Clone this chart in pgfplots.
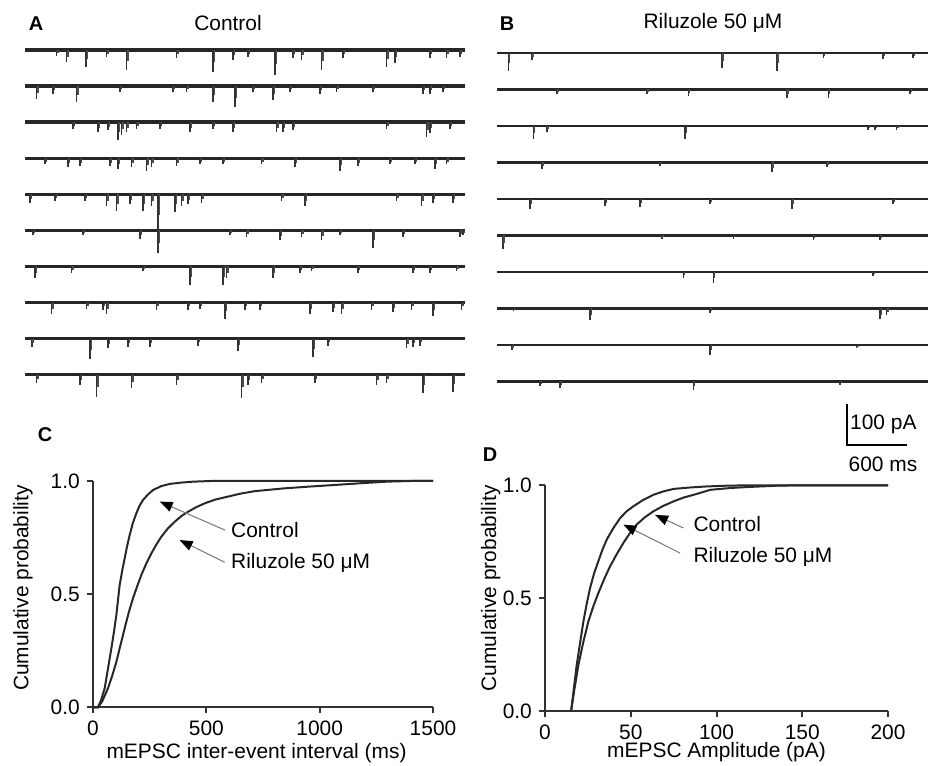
\documentclass[border=0pt]{standalone}
\usepackage{fontspec}
\setmainfont{Liberation Sans}
\usepackage{pgfplots}
\pgfplotsset{compat=1.18}
\usepackage{pgfplotstable}
\usetikzlibrary{arrows.meta}

\definecolor{curve}{RGB}{40,40,40}
\definecolor{axisgray}{RGB}{50,50,50}

% mEPSC events: trace k, time t (ms), amplitude d (pA)
\pgfplotstableread{
k t d
0 317 15
0 417 29
0 610 41
0 817 17
0 1017 49
0 1517 20
0 1883 54
0 2083 24
0 2233 17
0 2500 61
0 2683 20
0 2767 24
0 2967 49
0 3183 20
0 3617 41
0 3700 32
0 4050 20
0 4217 20
0 4350 17
1 117 31
1 283 19
1 517 39
1 950 15
1 1483 15
1 1617 15
1 1883 39
1 2100 51
1 2283 15
1 2483 34
1 2650 15
1 2950 19
1 3117 15
1 3483 15
1 3983 19
1 4050 19
1 4183 15
2 483 17
2 733 24
2 833 20
2 933 44
2 967 32
2 1017 24
2 1117 17
2 1350 17
2 1650 24
2 1883 17
2 2083 24
2 2517 24
2 2583 24
2 2683 20
2 3617 17
2 4017 37
2 4050 27
2 4250 17
3 200 15
3 433 22
3 550 20
3 850 20
3 933 27
3 1067 22
3 1217 32
3 1267 22
3 1517 20
3 1750 15
3 1983 15
3 2367 15
3 2700 22
3 3150 32
3 3333 20
3 3650 15
3 3900 15
3 4100 27
3 4217 15
4 50 20
4 300 17
4 600 17
4 817 29
4 917 41
4 1050 24
4 1183 41
4 1267 29
4 1333 90
4 1500 44
4 1567 29
4 1633 24
4 1767 20
4 2567 17
4 2800 29
4 3717 17
4 3967 29
4 4083 20
4 4283 20
5 83 12
5 583 12
5 1150 20
5 1333 54
5 2050 12
5 2217 17
5 2550 24
5 2767 17
5 2967 24
5 3150 12
5 3483 44
5 3783 17
5 4350 17
5 4383 12
6 100 29
6 467 15
6 1183 10
6 1650 46
6 1983 46
6 2017 27
6 2483 27
6 2750 17
6 2867 10
6 3333 17
6 3883 17
6 4050 15
6 4317 10
7 267 27
7 617 15
7 783 17
7 817 29
7 1317 17
7 1633 17
7 1750 15
7 2000 39
7 2200 17
7 2350 17
7 2850 27
7 3083 22
7 3167 27
7 3467 17
7 3683 22
7 3867 17
7 4083 34
7 4367 17
8 67 20
8 650 49
8 833 24
8 1033 20
8 1250 20
8 1733 17
8 2133 29
8 2883 44
8 3033 17
8 3817 24
8 3883 20
8 3950 17
9 117 20
9 550 24
9 717 54
9 1067 32
9 1517 24
9 2167 56
9 2233 24
9 2367 20
9 2900 20
9 3517 24
9 3617 20
9 3983 44
9 4283 41
}\spikesA

\pgfplotstableread{
k t d
0 113 44
0 347 17
0 2247 37
0 2797 44
0 3263 12
0 3863 15
0 4163 12
1 597 10
1 1497 10
1 1913 15
1 2897 22
1 3313 22
1 4130 10
2 363 32
2 497 15
2 1880 32
2 3713 10
2 3780 10
2 3997 10
3 447 17
3 1630 8
3 2747 24
3 3297 12
4 330 24
4 1080 17
4 1430 20
4 2130 12
4 2947 24
4 3963 12
5 57 32
5 1647 8
5 2363 8
5 3163 12
5 3830 12
6 1863 15
6 2163 27
6 3763 10
7 163 6
7 930 29
7 2130 10
7 3830 27
7 3897 15
8 147 12
8 2130 24
8 3597 8
9 430 12
9 630 17
9 1963 20
9 3430 8
}\spikesB

% baseline of each trace (offset per trace added below)
\pgfplotstableread{
t y
0 0
4400 0
}\baseA
\pgfplotstableread{
t y
0 0
4310 0
}\baseB

\pgfplotsset{
  trace/.style={black!85, line width=3.3bp, forget plot},
  events/.style={draw=none, mark=none, forget plot,
    error bars/.cd, y dir=minus, y explicit, error mark=none,
    error bar style={draw=black!80, line width=1.6bp}},
  tails/.style={draw=none, mark=none, forget plot,
    error bars/.cd, y dir=minus, y explicit, error mark=none,
    error bar style={draw=black!70, line width=1.3bp}},
  cdf/.style={
    scale only axis, axis lines=left, axis line style={-, line width=2bp, axisgray},
    tick align=outside, major tick length=6bp,
    every tick/.style={line width=2bp, axisgray},
    ymin=0, ymax=1, ytick={0,0.5,1},
    yticklabel style={/pgf/number format/.cd, fixed, fixed zerofill, precision=1},
    /pgf/number format/assume math mode=true,
    /pgf/number format/1000 sep={},
    clip=false,
  },
}

\begin{document}
\fontsize{21}{25}\selectfont
\begin{tikzpicture}[x=1bp,y=1bp]
\useasboundingbox (0,0) rectangle (928,766);

% ---- A: control traces
\begin{axis}[hide axis, clip=false, x=0.1bp, y=0.41bp,
  xmin=0, xmax=4400, ymin=-900, ymax=0,
  at={(25bp,716bp)}, anchor=north west]
\pgfplotsinvokeforeach{0,...,9}{
  \addplot[trace] table[x=t, y expr=\thisrow{y}-88*#1] {\baseA};
}
\addplot[events] table[x=t, y expr=-88*\thisrow{k}, y error=d] {\spikesA};
\addplot[tails] table[x expr=\thisrow{t}+14, y expr=-88*\thisrow{k}, y error expr=0.55*\thisrow{d}] {\spikesA};
\end{axis}

% ---- B: riluzole traces
\begin{axis}[hide axis, clip=false, x=0.1bp, y=0.41bp,
  xmin=0, xmax=4310, ymin=-1050, ymax=0,
  at={(497bp,713bp)}, anchor=north west]
\pgfplotsinvokeforeach{0,...,9}{
  \addplot[trace, line width=2.8bp] table[x=t, y expr=\thisrow{y}-89*#1] {\baseB};
}
\addplot[events] table[x=t, y expr=-89*\thisrow{k}, y error=d] {\spikesB};
\addplot[tails] table[x expr=\thisrow{t}+14, y expr=-89*\thisrow{k}, y error expr=0.55*\thisrow{d}] {\spikesB};
% scale bar 600 ms x 100 pA
\addplot[black, line width=1.3bp, forget plot] coordinates {(3500,-856) (3500,-956) (4100,-956)};
\node[anchor=west, inner sep=0pt] at (axis cs:3530,-906) {100 pA};
\node[inner sep=0pt] at (axis cs:3860,-1002) {600 ms};
\end{axis}

\node at (228,743) {Control};
\node at (713,743) {Riluzole 50 μM};
\node[font=\fontsize{20}{24}\selectfont\bfseries] at (36,742) {A};
\node[font=\fontsize{20}{24}\selectfont\bfseries] at (507,742) {B};
\node[font=\fontsize{20}{24}\selectfont\bfseries] at (45,331) {C};
\node[font=\fontsize{20}{24}\selectfont\bfseries] at (490,311) {D};

% ---- C: inter-event interval
\begin{axis}[cdf, at={(93bp,58.7bp)}, anchor=south west, width=340bp, height=226.3bp,
  xmin=0, xmax=1500, xtick={0,500,1000,1500},
  xlabel={mEPSC inter-event interval (ms)},
  ylabel={Cumulative probability},
  every axis y label/.style={at={(axis description cs:-0.206,0.527)}, rotate=90, anchor=center},
  every axis x label/.style={at={(axis description cs:0.481,-0.204)}, anchor=center},
]
\addplot[curve, line width=2bp] coordinates {
 (0,0) (22,0) (35,0.03) (51.5,0.084) (66,0.17) (81,0.26) (92,0.33) (103,0.408) (117.6,0.54)
 (130,0.61) (139.7,0.658) (150,0.71) (161.8,0.761) (176,0.815) (191.2,0.857) (205,0.89)
 (220.6,0.916) (242,0.94) (264.7,0.96) (300,0.977) (338,0.987) (390,0.993) (441,0.997) (520,1) (1500,1)};
\addplot[curve, line width=2bp] coordinates {
 (0,0) (22,0) (40,0.025) (66,0.084) (85,0.14) (102.9,0.2) (120,0.27) (139.7,0.349) (158,0.42)
 (176.5,0.482) (195,0.535) (213.3,0.585) (235,0.635) (257.5,0.68) (280,0.72) (301.6,0.754)
 (330,0.79) (360.5,0.82) (390,0.845) (419,0.864) (455,0.884) (492,0.901) (540,0.918)
 (595,0.931) (650,0.944) (713,0.955) (838,0.967) (950,0.975) (1060,0.982) (1180,0.99) (1294,0.997) (1400,1) (1500,1)};
\draw[gray, line width=1.1bp, -{Triangle[length=13bp, width=10bp, color=black]}]
  (axis cs:582,0.783) -- (axis cs:294,0.909);
\draw[gray, line width=1.1bp, -{Triangle[length=13bp, width=10bp, color=black]}]
  (axis cs:581,0.641) -- (axis cs:382,0.739);
\node[anchor=west, inner sep=0pt] at (axis cs:609,0.782) {Control};
\node[anchor=west, inner sep=0pt] at (axis cs:609,0.638) {Riluzole 50 μM};
\end{axis}

% ---- D: amplitude
\begin{axis}[cdf, at={(545bp,54.7bp)}, anchor=south west, width=343bp, height=226bp,
  xmin=0, xmax=200, xtick={0,50,100,150,200},
  xlabel={mEPSC Amplitude (pA)},
  ylabel={Cumulative probability},
  every axis y label/.style={at={(axis description cs:-0.158,0.544)}, rotate=90, anchor=center},
  every axis x label/.style={at={(axis description cs:0.5,-0.18)}, anchor=center},
]
\addplot[curve, line width=2bp] coordinates {
 (15.2,0) (16.8,0.1) (18.5,0.206) (20.4,0.3) (22.4,0.398) (24.3,0.475) (26.3,0.546) (28.6,0.61)
 (31.1,0.664) (33.5,0.715) (36,0.76) (39.8,0.81) (43.8,0.855) (47.5,0.884) (51.5,0.907)
 (57,0.934) (63.2,0.958) (69,0.973) (75,0.984) (84,0.99) (94.4,0.995) (105,0.998) (118,1) (200,1)};
\addplot[curve, line width=2bp] coordinates {
 (15.2,0) (17.2,0.1) (19.5,0.206) (22.3,0.305) (25.3,0.398) (28.2,0.465) (31.1,0.523) (34.5,0.585)
 (37.9,0.641) (41.8,0.695) (45.7,0.745) (49.5,0.788) (53.4,0.826) (58,0.857) (63.2,0.885)
 (69,0.909) (75,0.929) (80.5,0.945) (86.7,0.958) (96.5,0.98) (108,0.988) (120,0.993) (135,0.998) (147,1) (200,1)};
\draw[gray, line width=1.1bp, -{Triangle[length=13bp, width=10bp, color=black]}]
  (axis cs:80.7,0.811) -- (axis cs:64.2,0.869);
\draw[gray, line width=1.1bp, -{Triangle[length=13bp, width=10bp, color=black]}]
  (axis cs:78.8,0.700) -- (axis cs:45.7,0.826);
\node[anchor=west, inner sep=0pt] at (axis cs:86.5,0.829) {Control};
\node[anchor=west, inner sep=0pt] at (axis cs:86.5,0.684) {Riluzole 50 μM};
\end{axis}
\end{tikzpicture}
\end{document}
